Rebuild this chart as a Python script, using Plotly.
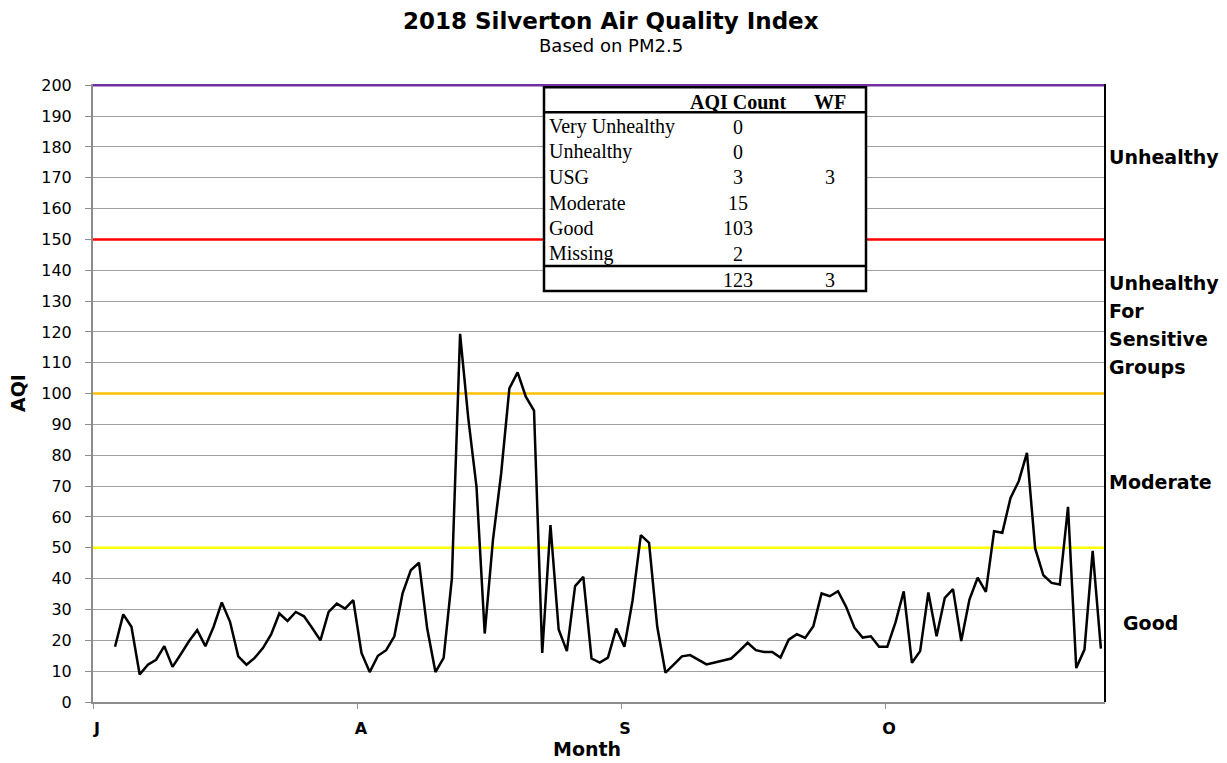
import pandas as pd
import plotly.graph_objects as go

# daily AQI (PM2.5), Jul 3 - Oct 31 2018; Jul 1-2 missing
dates = pd.date_range("2018-07-03", periods=121, freq="D")
aqi = [
    17.9, 28.4, 24.4, 8.9, 12.1, 13.7, 18.1, 11.4, 15.5, 19.7,
    23.3, 18.1, 24.4, 32.3, 26.0, 14.8, 12.1, 14.3, 17.5, 21.9,
    28.7, 26.3, 29.2, 27.8, 24.0, 20.0, 29.2, 31.9, 30.3, 33.0,
    15.9, 9.7, 15.0, 16.8, 21.3, 35.2, 42.7, 45.2, 23.8, 9.7,
    14.3, 40.0, 119.4, 92.0, 69.8, 22.2, 52.5, 74.1, 101.7, 106.9,
    99.0, 94.5, 15.9, 57.4, 23.5, 16.5, 37.6, 40.6, 14.1, 12.8,
    14.4, 23.8, 17.9, 33.0, 54.1, 51.6, 24.4, 9.5, 12.1, 14.8,
    15.2, 13.7, 12.2, 12.8, 13.5, 14.1, 16.6, 19.2, 16.8, 16.2,
    16.2, 14.4, 20.2, 22.0, 20.8, 24.6, 35.2, 34.3, 35.9, 30.8,
    24.1, 20.9, 21.3, 17.9, 17.9, 25.8, 35.9, 12.7, 16.5, 35.5,
    21.3, 33.8, 36.6, 19.8, 33.2, 40.3, 35.7, 55.4, 54.9, 66.2,
    71.6, 80.8, 49.8, 41.1, 38.6, 38.1, 63.3, 11.0, 17.0, 49.0,
    17.3,
]

month_labels = ["J", "A", "S", "O"]

levels = [50, 100, 150, 200]
level_colors = ["#FFFF00", "#FFC000", "#FF0000", "#7030A0"]

zone_names = ["Unhealthy", "Unhealthy For Sensitive Groups", "Moderate", "Good"]

table_rows = ["Very Unhealthy", "Unhealthy", "USG", "Moderate", "Good", "Missing"]
aqi_count = [0, 0, 3, 15, 103, 2]
wf_count = [None, None, 3, None, None, None]

# page geometry in screen px; the html body adds an 8px margin
PAGE_OFF = 8
W, H = 1227 - PAGE_OFF, 763 - PAGE_OFF
plot_left, plot_right, plot_top, plot_bottom = 93, 1105, 84, 702
plot_w = plot_right - plot_left
plot_h = plot_bottom - plot_top
y_top = 200.4  # a hair above 200 so the purple line isn't clipped


def px_x(x):
    return (x - plot_left) / plot_w


def px_y(y):
    return (plot_bottom - y) / plot_h


sans = "DejaVu Sans"
serif = "Liberation Serif"

x_start = pd.Timestamp("2018-06-30 07:40")
x_end = pd.Timestamp("2018-10-31 12:00")
tick_step = (x_end - x_start) * 264 / plot_w
tick_vals = [x_start + pd.Timedelta(minutes=1) + tick_step * i for i in range(len(month_labels))]

fig = go.Figure()

# AQI category boundaries
for lev, col in zip(levels, level_colors):
    fig.add_trace(
        go.Scatter(
            x=[x_start, x_end],
            y=[lev, lev],
            mode="lines",
            showlegend=False,
            hoverinfo="skip",
            line={"color": col, "width": 2.5},
        )
    )

fig.add_trace(
    go.Scatter(
        x=dates,
        y=aqi,
        mode="lines",
        showlegend=False,
        line={"color": "black", "width": 2.5},
    )
)

# right border of plot area
fig.add_shape(type="line", xref="paper", yref="paper", x0=1, x1=1, y0=0, y1=1,
              line={"color": "black", "width": 2})

# summary table box
tb_x0, tb_x1 = px_x(544), px_x(866)
fig.add_shape(type="rect", xref="paper", yref="paper",
              x0=tb_x0, x1=tb_x1, y0=px_y(291), y1=px_y(87.2),
              fillcolor="white", line={"color": "black", "width": 2.5}, layer="above")
for yy in [112.3, 266]:
    fig.add_shape(type="line", xref="paper", yref="paper",
                  x0=tb_x0, x1=tb_x1, y0=px_y(yy), y1=px_y(yy),
                  line={"color": "black", "width": 2.5}, layer="above")

col_label, col_count, col_wf = px_x(547), px_x(738), px_x(830)
row_h = 25.4
tfont = {"family": serif, "size": 20, "color": "black"}

fig.add_annotation(x=col_count, y=px_y(101.5), text="<b>AQI Count</b>", font=tfont)
fig.add_annotation(x=col_wf, y=px_y(101.5), text="<b>WF</b>", font=tfont)
for i, (name, cnt, wf) in enumerate(zip(table_rows, aqi_count, wf_count)):
    yy = px_y(126.5 + i * row_h)
    fig.add_annotation(x=col_label, y=yy, text=name, xanchor="left", font=tfont)
    fig.add_annotation(x=col_count, y=yy, text=str(cnt), font=tfont)
    if wf is not None:
        fig.add_annotation(x=col_wf, y=yy, text=str(wf), font=tfont)
total_y = px_y(279.5)
fig.add_annotation(x=col_count, y=total_y, text=str(sum(aqi_count)), font=tfont)
fig.add_annotation(x=col_wf, y=total_y, text=str(sum(w for w in wf_count if w)), font=tfont)

# zone labels on the right
zfont = {"family": sans, "size": 19, "color": "black"}
fig.add_annotation(x=px_x(1107), y=px_y(156.7), text=f"<b>{zone_names[0]}</b>", xanchor="left", font=zfont)
for i, word in enumerate(zone_names[1].split()):
    fig.add_annotation(x=px_x(1107), y=px_y(283.3 + i * 27.8), text=f"<b>{word}</b>",
                       xanchor="left", font=zfont)
fig.add_annotation(x=px_x(1107), y=px_y(481.7), text=f"<b>{zone_names[2]}</b>", xanchor="left", font=zfont)
fig.add_annotation(x=px_x(1121), y=px_y(623.3), text=f"<b>{zone_names[3]}</b>", xanchor="left", font=zfont)

# titles
fig.add_annotation(x=px_x(611), y=px_y(21), text="<b>2018 Silverton Air Quality Index</b>",
                   font={"family": sans, "size": 23, "color": "black"})
fig.add_annotation(x=px_x(611), y=px_y(45), text="Based on PM2.5",
                   font={"family": sans, "size": 18, "color": "black"})
fig.add_annotation(x=px_x(587), y=px_y(749), text="<b>Month</b>",
                   font={"family": sans, "size": 19, "color": "black"})
fig.add_annotation(x=px_x(18), y=0.5, text="<b>AQI</b>", textangle=-90,
                   font={"family": sans, "size": 19, "color": "black"})

for a in fig.layout.annotations:
    a.update(xref="paper", yref="paper", showarrow=False, yanchor="middle")
    if a.xanchor is None:
        a.xanchor = "center"

fig.update_xaxes(
    range=[x_start, x_end],
    tickvals=tick_vals,
    ticktext=[f"<b>{m}</b>" for m in month_labels],
    tickfont={"family": sans, "size": 16, "color": "black"},
    ticklabelshift=4,
    ticklabelstandoff=6,
    showgrid=False,
    showline=True,
    linecolor="#8c8c8c",
    linewidth=2,
    ticks="outside",
    ticklen=5,
    tickcolor="#8c8c8c",
)
fig.update_yaxes(
    range=[0, y_top],
    tickvals=list(range(0, 201, 10)),
    tickfont={"family": sans, "size": 16, "color": "black"},
    ticklabelstandoff=10,
    showgrid=True,
    gridcolor="#a0a0a0",
    gridwidth=1.2,
    zeroline=False,
    showline=True,
    linecolor="#8c8c8c",
    linewidth=2,
    ticks="outside",
    ticklen=6,
    tickcolor="#8c8c8c",
)

fig.update_layout(
    width=W,
    height=H,
    margin={"l": plot_left - PAGE_OFF, "r": W - (plot_right - PAGE_OFF),
            "t": plot_top - PAGE_OFF, "b": H - (plot_bottom - PAGE_OFF)},
    plot_bgcolor="white",
    paper_bgcolor="white",
)

fig.write_html("out.html")
